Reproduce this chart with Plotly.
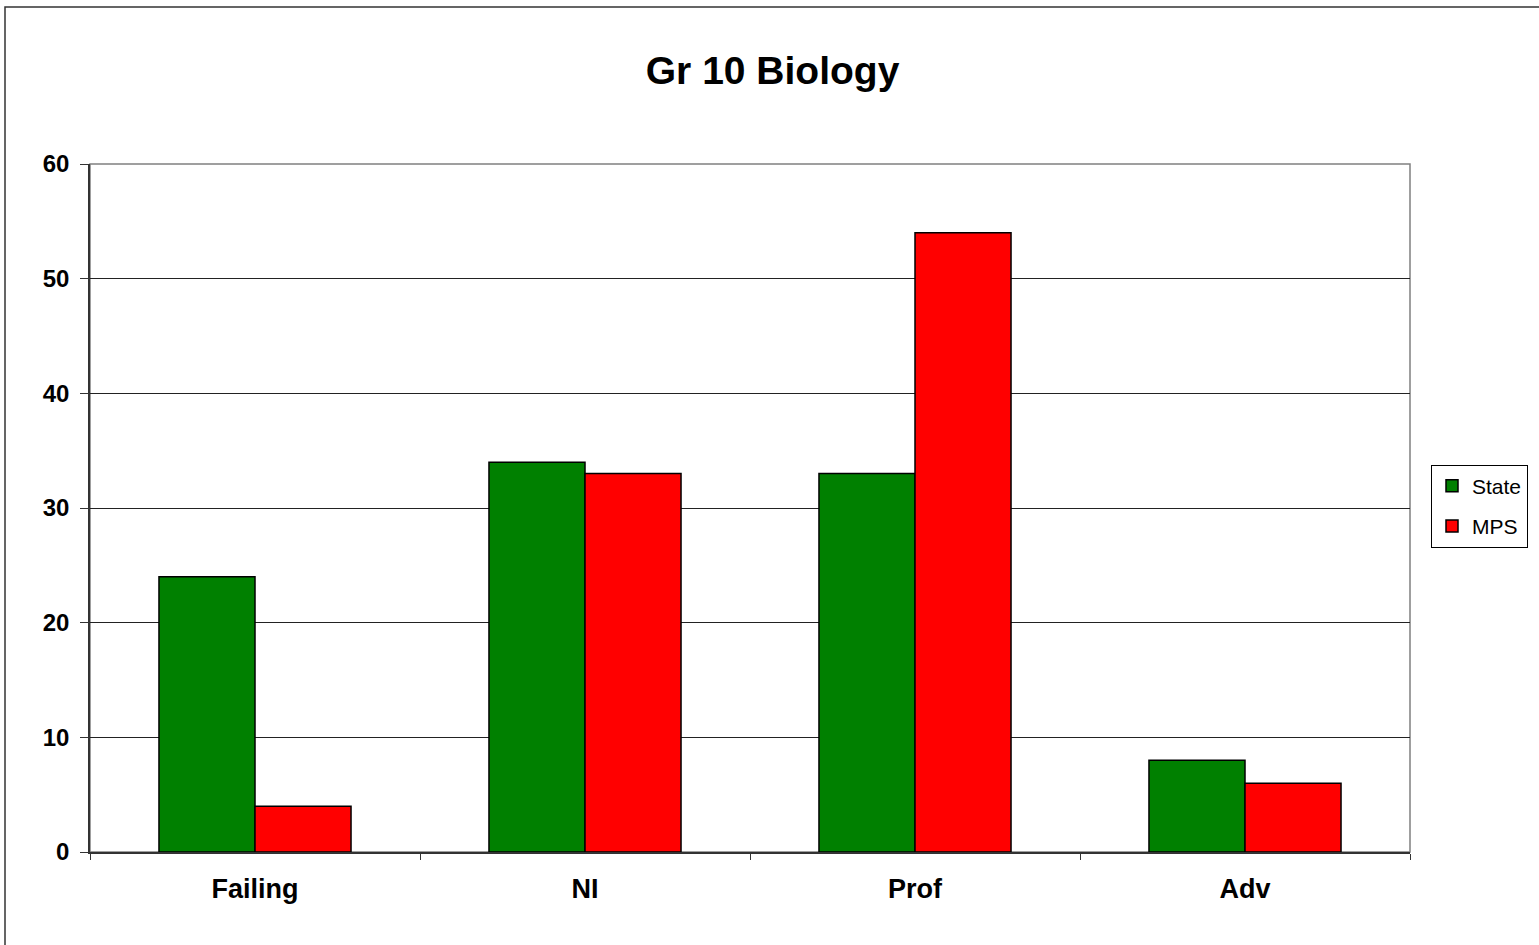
import plotly.graph_objects as go

categories = ["Failing", "NI", "Prof", "Adv"]
state_values = [24, 34, 33, 8]
mps_values = [4, 33, 54, 6]
y_ticks = [0, 10, 20, 30, 40, 50, 60]

W, H = 1539, 945
L, R, T, B = 90, 129, 164, 93
pw, ph = W - L - R, H - T - B

fig = go.Figure()
fig.add_trace(go.Bar(name="State", x=categories, y=state_values, legendgroup="s",
                     marker=dict(color="#008000", line=dict(color="#000000", width=1.5))))
fig.add_trace(go.Bar(name="MPS", x=categories, y=mps_values, legendgroup="m",
                     marker=dict(color="#FF0000", line=dict(color="#000000", width=1.5))))

def px_x(p):
    return (p - L) / pw

def px_y(p):
    return (H - B - p) / ph

fig.update_layout(
    width=W, height=H,
    margin=dict(l=L, r=R, t=T, b=B, autoexpand=False),
    paper_bgcolor="white", plot_bgcolor="white",
    barmode="group", bargap=0.418, bargroupgap=0,
    title=dict(text="<b>Gr 10 Biology</b>", x=0.502, xref="container", xanchor="center",
               y=1 - 70 / H, yref="container", yanchor="middle",
               font=dict(family="Liberation Sans, Arial", size=39, color="#000000")),
    font=dict(family="Liberation Sans, Arial", color="#000000"),
    legend=dict(x=px_x(1431), xanchor="left", y=px_y(506), yanchor="middle",
                bordercolor="#000000", borderwidth=1, bgcolor="white",
                font=dict(size=21, family="Liberation Sans, Arial"),
                tracegroupgap=10, itemwidth=30, traceorder="grouped"),
    showlegend=True,
)
fig.update_yaxes(range=[0, 60], tickvals=y_ticks, ticks="outside", ticklen=8, tickcolor="#333333",
                 showgrid=True, gridcolor="#222222", gridwidth=1,
                 showline=True, linecolor="#333333", linewidth=1.5, zeroline=False,
                 tickfont=dict(size=24, family="Liberation Sans, Arial", weight="bold"),
                 ticklabelstandoff=6)
fig.update_xaxes(ticks="outside", tickson="boundaries", ticklen=6, tickcolor="#333333",
                 showgrid=False, showline=True, linecolor="#333333", linewidth=1.5,
                 tickfont=dict(size=27, family="Liberation Sans, Arial", weight="bold"),
                 ticklabelstandoff=12)

# plot area border (top/right in gray)
fig.add_shape(type="rect", xref="paper", yref="paper", x0=0, x1=1, y0=0, y1=1,
              line=dict(color="#808080", width=1.5), layer="below")
# outer chart border
fig.add_shape(type="rect", xref="paper", yref="paper",
              x0=px_x(5), x1=px_x(1560), y0=px_y(960), y1=px_y(7),
              line=dict(color="#333333", width=1.5))

fig.write_html("out.html", config={"displayModeBar": False},
               post_script="document.body.style.margin='0';document.body.style.overflow='hidden';")
